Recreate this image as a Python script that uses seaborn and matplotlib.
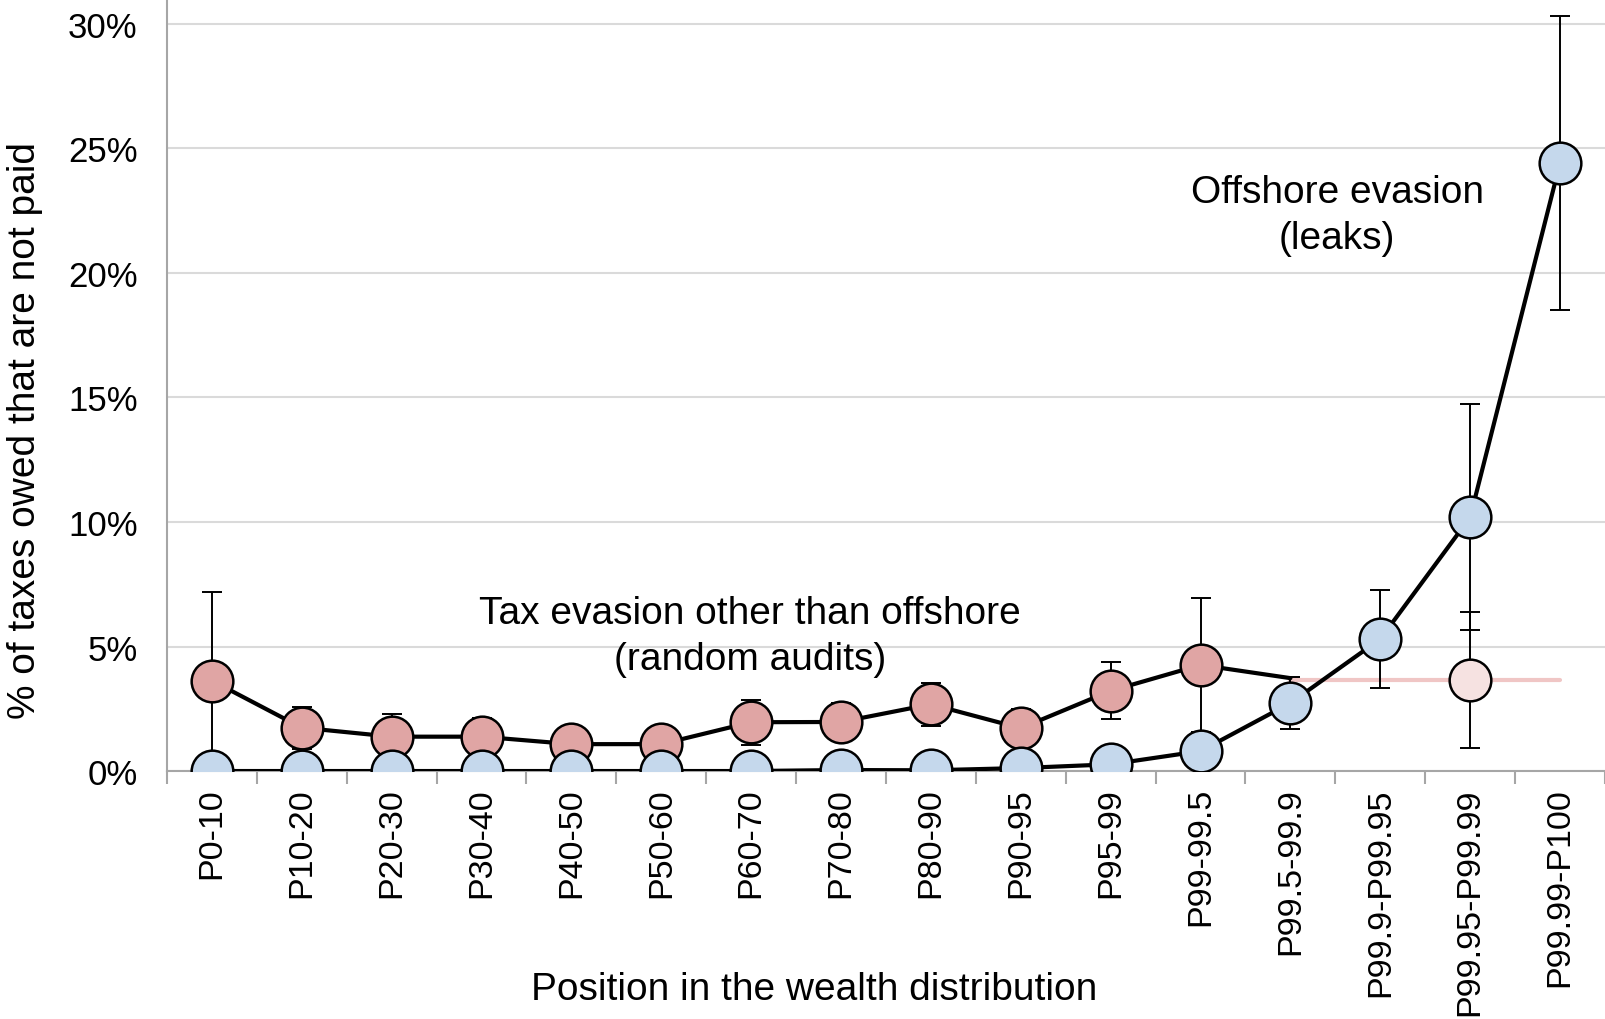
import numpy as np
import pandas as pd
import matplotlib
matplotlib.use("Agg")
import matplotlib.pyplot as plt
import seaborn as sns

# Wealth groups along the x axis
groups = ["P0-10", "P10-20", "P20-30", "P30-40", "P40-50", "P50-60", "P60-70",
          "P70-80", "P80-90", "P90-95", "P95-99", "P99-99.5", "P99.5-99.9",
          "P99.9-P99.95", "P99.95-P99.99", "P99.99-P100"]

# Tax evasion other than offshore (random audits), % of taxes owed
audit_vals = [3.63, 1.74, 1.38, 1.38, 1.08, 1.08, 1.96, 1.97, 2.68, 1.72,
              3.22, 4.26, 3.73]
audit_err = [3.55, 0.85, 0.90, 0.75, 0.61, 0.50, 0.91, 0.78, 0.86, 0.76,
             1.14, 2.70, np.nan]

# Imputed audit-based evasion for the very top (held constant)
audit_top_val = 3.65
audit_top_err = 2.72

# Offshore evasion (leaks), % of taxes owed
offshore_vals = [0.0, 0.0, 0.0, 0.0, 0.0, 0.0, 0.0, 0.04, 0.03, 0.12,
                 0.27, 0.80, 2.73, 5.30, 10.19, 24.42]
offshore_err = [0, 0, 0, 0, 0, 0, 0, 0, 0, 0, 0, 0, 1.06, 1.97, 4.53, 5.90]

yticks = [0, 5, 10, 15, 20, 25, 30]

RED = "#E0A5A4"
BLUE = "#C5D8EC"
PINK_FACE = "#F6E2E1"
PINK_LINE = "#F0C6C5"

sns.set_theme(style="white")
plt.rcParams["font.family"] = ["Liberation Sans", "DejaVu Sans"]
plt.rcParams.update({"text.color": "black", "axes.labelcolor": "black",
                     "xtick.color": "black", "ytick.color": "black"})

fig = plt.figure(figsize=(16.05, 10.2), dpi=100)
ax = fig.add_axes([0.104, 0.2431, 0.896, 0.7569])

x_all = np.arange(len(groups))
audit = pd.DataFrame({"x": x_all[:len(audit_vals)], "y": audit_vals, "err": audit_err})
offshore = pd.DataFrame({"x": x_all, "y": offshore_vals, "err": offshore_err})

# Constant extension of the audit series for the top groups
ext = pd.DataFrame({"x": [12, 15], "y": [audit_top_val, audit_top_val]})
sns.lineplot(data=ext, x="x", y="y", ax=ax, color=PINK_LINE, lw=3.0, zorder=2)

# Error bars (drawn beneath the markers)
eb_kw = dict(fmt="none", ecolor="black", elinewidth=1.4, capsize=7, capthick=1.4, zorder=3)
a_err = audit.dropna()
ax.errorbar(a_err["x"], a_err["y"], yerr=a_err["err"], **eb_kw)
o_err = offshore[offshore["err"] > 0]
ax.errorbar(o_err["x"], o_err["y"], yerr=o_err["err"], **eb_kw)
ax.errorbar([14], [audit_top_val], yerr=[audit_top_err], **eb_kw)

# Series lines
sns.lineplot(data=audit, x="x", y="y", ax=ax, color="black", lw=3.0, zorder=4)
sns.lineplot(data=offshore, x="x", y="y", ax=ax, color="black", lw=3.0, zorder=4)

# Markers
mk = dict(s=900, edgecolor="black", linewidth=1.8, zorder=5, legend=False)
sns.scatterplot(data=audit.iloc[:12], x="x", y="y", ax=ax, color=RED, **mk)
sns.scatterplot(data=offshore, x="x", y="y", ax=ax, color=BLUE, **mk)
sns.scatterplot(x=[14], y=[audit_top_val], ax=ax, color=PINK_FACE, **mk)

# Axes styling
ax.set_xlim(-0.5, len(groups) - 0.5)
ax.set_ylim(0, 31)
ax.set_yticks(yticks)
ax.set_yticklabels([f"{v}%" for v in yticks], fontsize=25)
ax.set_xticks(x_all)
ax.set_xticklabels(groups, rotation=90, fontsize=24.5, va="top", ha="center")
ax.tick_params(axis="x", which="major", length=0, pad=11.5)
ax.set_xticks(np.arange(-0.5, len(groups), 1.0), minor=True)
ax.tick_params(axis="x", which="minor", length=9, width=1.5, color="#A6A6A6",
               direction="out", bottom=True)
ax.tick_params(axis="y", length=0, pad=21)

ax.yaxis.grid(True, color="#DADADA", lw=1.5)
ax.set_axisbelow(True)
for side in ["top", "right"]:
    ax.spines[side].set_visible(False)
for side in ["left", "bottom"]:
    ax.spines[side].set_color("#A6A6A6")
    ax.spines[side].set_linewidth(1.5)

ax.set_xlabel("Position in the wealth distribution", fontsize=28)
ax.xaxis.set_label_coords((814 - 167) / (0.896 * 1605), (772 - 990) / (0.7569 * 1020),
                          transform=ax.transAxes)
ax.xaxis.label.set_va("center")
ax.set_ylabel("% of taxes owed that are not paid", fontsize=28)
ax.yaxis.set_label_coords((25 - 167) / (0.896 * 1605), 0.443, transform=ax.transAxes)
ax.yaxis.label.set_va("center")

ax.text(5.99, 5.42, "Tax evasion other than offshore\n(random audits)",
        ha="center", va="center", fontsize=28, linespacing=1.33)
ax.text(12.52, 22.33, "Offshore evasion\n(leaks)",
        ha="center", va="center", fontsize=28, linespacing=1.33)

fig.savefig("out.png", dpi=100)
